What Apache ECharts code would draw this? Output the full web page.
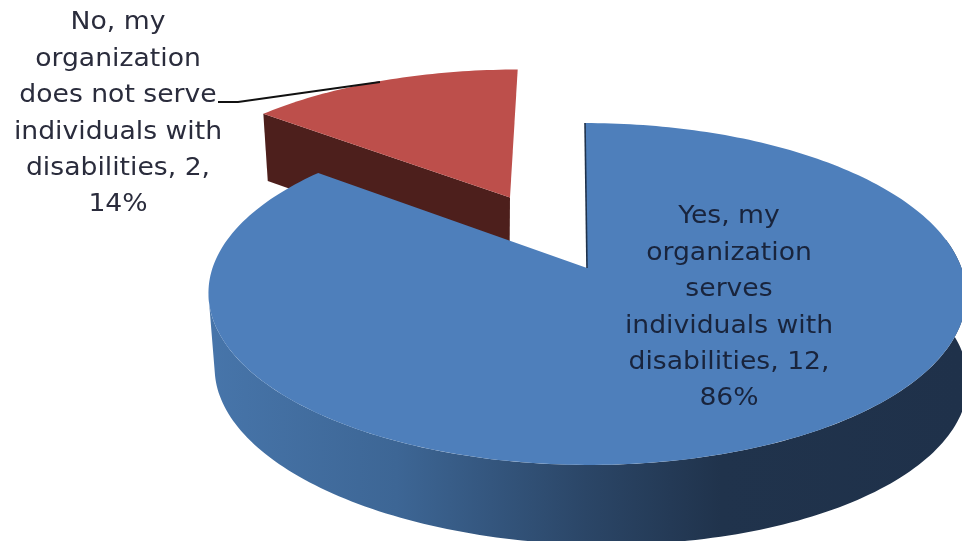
<!DOCTYPE html>
<html>
<head>
<meta charset="utf-8">
<style>html,body{margin:0;padding:0;background:#fff}#c{width:962px;height:541px;filter:blur(0.5px)}</style>
<script src="https://cdn.jsdelivr.net/npm/echarts@6/dist/echarts.min.js"></script>
</head>
<body>
<div id="c"></div>
<script>
const categories = [
  "Yes, my\norganization\nserves\nindividuals with\ndisabilities",
  "No, my\norganization\ndoes not serve\nindividuals with\ndisabilities"
];
const values = [12, 2];
const percents = ["86%", "14%"];
const exploded = [0, 0.5];
const topColors = ["#4e7fbb", "#bd4f4b"];
const cutColors = ["#1f324b", "#4d1f1c"];
const labelCentres = [[729, 217], [118, 23]];

const total = values.reduce((a, b) => a + b, 0);
const view = { cx: 587, cy: 268, A: 374.5, B: 167, k: 0.152, skew: 2.3 };
const wallBase = { cx: 589, cy: 349, A: 372, B: 166, k: 0.152, skew: 15 };
const cutBase = { cx: 585, cy: 338, A: 367, B: 170, k: 0.152, skew: 2.3 };
function project(p, x, y) {
  const w = 1 + p.k * y;
  return [p.cx + p.A * x / w - p.skew * y / w, p.cy - p.B * y / w];
}
function arc(p, a0, a1, ox, oy) {
  const n = Math.max(8, Math.ceil(Math.abs(a1 - a0) / 0.02)), pts = [];
  for (let i = 0; i <= n; i++) {
    const a = a0 + (a1 - a0) * i / n;
    pts.push(project(p, Math.sin(a) + ox, Math.cos(a) + oy));
  }
  return pts;
}
const shade = {
  type: 'linear', x: 208, y: 0, x2: 962, y2: 0, global: true,
  colorStops: [
    { offset: 0, color: '#4775aa' },
    { offset: 0.25, color: '#3d6695' },
    { offset: 0.5, color: '#2b4667' },
    { offset: 0.68, color: '#20334c' },
    { offset: 1, color: '#1f314a' }
  ]
};
function renderItem(params, api) {
  const i = params.dataIndex;
  let before = 0;
  for (let j = 0; j < i; j++) before += values[j];
  const a0 = before / total * 2 * Math.PI;
  const a1 = (before + api.value(0)) / total * 2 * Math.PI;
  const mid = (a0 + a1) / 2, e = exploded[i];
  const ox = e * Math.sin(mid), oy = e * Math.cos(mid);
  const z = i === 0 ? 10 : 1;
  const children = [];
  const apexT = project(view, ox, oy), apexB = project(cutBase, ox, oy);
  if (i === 0) {
    const wallFrom = 80 * Math.PI / 180, wallTo = 261 * Math.PI / 180;
    children.push({
      type: 'polygon', z2: z,
      shape: { points: arc(view, wallFrom, wallTo, ox, oy).concat(arc(wallBase, wallTo, wallFrom, ox, oy)) },
      style: { fill: shade }
    });
    children.push({
      type: 'polyline', z2: z + 2,
      shape: { points: [project(view, Math.sin(a0) + ox, Math.cos(a0) + oy), apexT] },
      style: { stroke: cutColors[0], lineWidth: 1.6, fill: null }
    });
  } else {
    const cT = project(view, Math.sin(a0) + ox, Math.cos(a0) + oy);
    const cB = project(cutBase, Math.sin(a0) + ox, Math.cos(a0) + oy);
    children.push({
      type: 'polygon', z2: z,
      shape: { points: [apexT, cT, cB, apexB] },
      style: { fill: cutColors[1] }
    });
  }
  children.push({
    type: 'polygon', z2: z + 1,
    shape: { points: arc(view, a0, a1, ox, oy).concat([apexT]) },
    style: { fill: topColors[i] }
  });
  if (i === 1) {
    children.push({
      type: 'polyline', z2: z + 2,
      shape: { points: [[218, 102], [238, 102], [380, 82]] },
      style: { stroke: '#111', lineWidth: 1.8, fill: null }
    });
  }
  const lab = labelCentres[i];
  children.push({
    type: 'text', z2: 30,
    x: lab[0], y: lab[1] - 18, scaleX: 1.11, scaleY: 1,
    style: {
      text: categories[i] + ', ' + api.value(0) + ',\n' + percents[i],
      x: 0, y: 0,
      align: 'center', verticalAlign: 'top',
      font: '24px "DejaVu Sans"', lineHeight: 36.4,
      fill: i === 0 ? '#19243c' : '#2a2c3c'
    }
  });
  return { type: 'group', children };
}
const chart = echarts.init(document.getElementById('c'), null, { renderer: 'canvas' });
chart.setOption({
  animation: false,
  backgroundColor: '#ffffff',
  series: [{
    type: 'custom',
    coordinateSystem: 'none',
    renderItem,
    clip: false,
    silent: true,
    data: values.map(v => [v])
  }]
});
</script>
</body>
</html>
